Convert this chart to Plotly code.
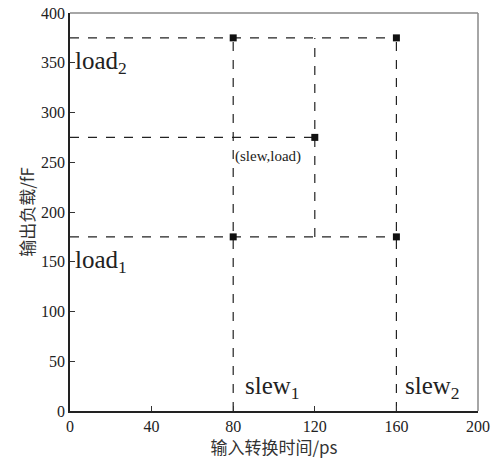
import plotly.graph_objects as go

slews = [80, 160]
loads = [175, 375]
mid_point = (120, 275)
x_ticks = [0, 40, 80, 120, 160, 200]
y_ticks = [0, 50, 100, 150, 200, 250, 300, 350, 400]
x_title = "输入转换时间/ps"
y_title = "输出负载/fF"

fig = go.Figure()
dash = dict(color="#222", width=1.2, dash="dash")

# horizontal dashed lines from y-axis to points
for ld in loads:
    fig.add_trace(go.Scatter(x=[0, max(slews)], y=[ld, ld], mode="lines", line=dash, showlegend=False, hoverinfo="skip"))
fig.add_trace(go.Scatter(x=[0, mid_point[0]], y=[mid_point[1], mid_point[1]], mode="lines", line=dash, showlegend=False, hoverinfo="skip"))
# vertical dashed lines
for s in slews:
    fig.add_trace(go.Scatter(x=[s, s], y=[0, max(loads)], mode="lines", line=dash, showlegend=False, hoverinfo="skip"))
fig.add_trace(go.Scatter(x=[mid_point[0], mid_point[0]], y=[min(loads), max(loads)], mode="lines", line=dash, showlegend=False, hoverinfo="skip"))

# points
px = [s for s in slews for _ in loads] + [mid_point[0]]
py = [l for _ in slews for l in loads] + [mid_point[1]]
fig.add_trace(go.Scatter(x=px, y=py, mode="markers", marker=dict(symbol="square", size=7, color="#111"), showlegend=False))

serif = "Liberation Serif"
big = dict(family=serif, size=25, color="#222")
fig.add_annotation(x=0, y=350, text="load<sub>2</sub>", showarrow=False, xanchor="left", yanchor="middle", xshift=3, font=big)
fig.add_annotation(x=0, y=150, text="load<sub>1</sub>", showarrow=False, xanchor="left", yanchor="middle", xshift=3, font=big)
fig.add_annotation(x=slews[0], y=24, text="slew<sub>1</sub>", showarrow=False, xanchor="left", yanchor="middle", xshift=10, font=big)
fig.add_annotation(x=slews[1], y=24, text="slew<sub>2</sub>", showarrow=False, xanchor="left", yanchor="middle", xshift=7, font=big)
fig.add_annotation(x=slews[0], y=mid_point[1], text="(slew,load)", showarrow=False, xanchor="left", yanchor="top", xshift=0, yshift=-9,
                   font=dict(family=serif, size=15, color="#222"))

# lighter top/right frame
frame = dict(color="#888", width=1.5)
fig.add_shape(type="line", xref="paper", yref="paper", x0=0, x1=1, y0=1, y1=1, line=frame)
fig.add_shape(type="line", xref="paper", yref="paper", x0=1, x1=1, y0=0, y1=1, line=frame)

axis_common = dict(showgrid=False, zeroline=False, showline=True, linecolor="#222", linewidth=1.5, mirror=False,
                   automargin=False, ticks="inside", ticklen=5, tickcolor="#333",
                   tickfont=dict(family=serif, size=16, color="#222"))
title_font = dict(family="Noto Sans CJK SC", size=17, color="#333")
fig.update_xaxes(range=[0, 200], tickvals=x_ticks, title=dict(text=x_title, font=title_font, standoff=2), **axis_common)
fig.update_yaxes(range=[0, 400], tickvals=y_ticks, title=dict(text=y_title, font=title_font, standoff=2), **axis_common)

fig.update_layout(width=493, height=459, margin=dict(l=70, r=15, t=13, b=48, autoexpand=False),
                  plot_bgcolor="white", paper_bgcolor="white")
fig.write_html("out.html")
